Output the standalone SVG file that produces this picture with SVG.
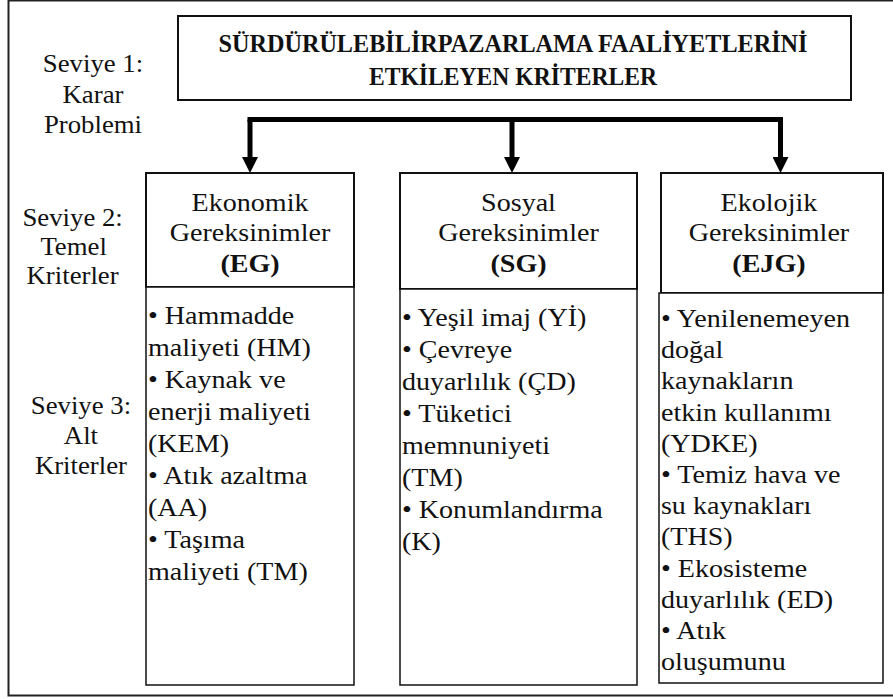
<svg xmlns="http://www.w3.org/2000/svg" width="893" height="699" viewBox="0 0 893 699">
  <style>
    .t { font-family: "Liberation Serif", "Times New Roman", serif; font-size: 26px; fill: #111; }
    .c { text-anchor: middle; }
    .b { font-weight: bold; }
    .title { font-family: "Liberation Serif", "Times New Roman", serif; font-size: 25px; font-weight: bold; fill: #111; text-anchor: middle; }
    .box { fill: #fff; stroke: #111; stroke-width: 2; }
    .thin { fill: #fff; stroke: #111; stroke-width: 1.5; }
    .conn { fill: none; stroke: #000; stroke-width: 5; }
  </style>
  <defs>
    <marker id="arrow" markerUnits="userSpaceOnUse" markerWidth="16" markerHeight="16" viewBox="0 0 16 16" refX="0" refY="8" orient="auto">
      <path d="M0,0 L16,8 L0,16 z" fill="#000"/>
    </marker>
  </defs>
  <rect x="0" y="0" width="893" height="699" fill="#fff"/>
  <rect x="8.5" y="0.5" width="895" height="695" fill="none" stroke="#222" stroke-width="2"/>

  <g id="level-labels" transform="scale(1.03,1)">
    <text class="t c" x="90.3" y="72">Seviye 1:</text>
    <text class="t c" x="90.3" y="103">Karar</text>
    <text class="t c" x="90.3" y="133">Problemi</text>
    <text class="t c" x="70.5" y="226">Seviye 2:</text>
    <text class="t c" x="71.5" y="255">Temel</text>
    <text class="t c" x="70.5" y="284">Kriterler</text>
    <text class="t c" x="78.6" y="414">Seviye 3:</text>
    <text class="t c" x="78.6" y="444">Alt</text>
    <text class="t c" x="78.6" y="474">Kriterler</text>
  </g>

  <g id="node-title">
    <rect class="box" x="178" y="16" width="673" height="84"/>
    <text class="title" x="513" y="52" textLength="589" lengthAdjust="spacingAndGlyphs">SÜRDÜRÜLEBİLİRPAZARLAMA FAALİYETLERİNİ</text>
    <text class="title" x="513" y="85" textLength="288" lengthAdjust="spacingAndGlyphs">ETKİLEYEN KRİTERLER</text>
  </g>

  <g id="connectors">
    <path class="conn" d="M250 119.5 H780.5" stroke-linecap="square"/>
    <path class="conn" d="M250 119.5 V157" marker-end="url(#arrow)"/>
    <path class="conn" d="M512 119.5 V157" marker-end="url(#arrow)"/>
    <path class="conn" d="M780.5 119.5 V157" marker-end="url(#arrow)"/>
  </g>

  <g id="node-eg">
    <rect class="box" x="146" y="173" width="208" height="114"/>
    <rect class="thin" x="146" y="287" width="208" height="398"/>
    <g transform="scale(1.08,1)">
      <text class="t c" x="231.5" y="211">Ekonomik</text>
      <text class="t c" x="231.5" y="241">Gereksinimler</text>
      <text class="t c b" x="231.5" y="272">(EG)</text>
      <text class="t" x="137" y="324">• Hammadde</text>
      <text class="t" x="137" y="356">maliyeti (HM)</text>
      <text class="t" x="137" y="388">• Kaynak ve</text>
      <text class="t" x="137" y="420">enerji maliyeti</text>
      <text class="t" x="137" y="452">(KEM)</text>
      <text class="t" x="137" y="484">• Atık azaltma</text>
      <text class="t" x="137" y="516">(AA)</text>
      <text class="t" x="137" y="548">• Taşıma</text>
      <text class="t" x="137" y="580">maliyeti (TM)</text>
    </g>
  </g>

  <g id="node-sg">
    <rect class="box" x="400" y="173" width="237" height="116"/>
    <rect class="thin" x="400" y="289" width="237" height="396"/>
    <g transform="scale(1.08,1)">
      <text class="t c" x="480.1" y="211">Sosyal</text>
      <text class="t c" x="480.1" y="241">Gereksinimler</text>
      <text class="t c b" x="480.1" y="272">(SG)</text>
      <text class="t" x="372.2" y="326">• Yeşil imaj (Yİ)</text>
      <text class="t" x="372.2" y="358">• Çevreye</text>
      <text class="t" x="372.2" y="390">duyarlılık (ÇD)</text>
      <text class="t" x="372.2" y="422">• Tüketici</text>
      <text class="t" x="372.2" y="454">memnuniyeti</text>
      <text class="t" x="372.2" y="486">(TM)</text>
      <text class="t" x="372.2" y="518">• Konumlandırma</text>
      <text class="t" x="372.2" y="550">(K)</text>
    </g>
  </g>

  <g id="node-ejg">
    <rect class="box" x="661" y="173" width="222" height="120"/>
    <rect class="thin" x="659" y="293" width="224" height="390"/>
    <g transform="scale(1.08,1)">
      <text class="t c" x="712" y="211">Ekolojik</text>
      <text class="t c" x="712" y="241">Gereksinimler</text>
      <text class="t c b" x="712" y="272">(EJG)</text>
      <text class="t" x="612" y="327">• Yenilenemeyen</text>
      <text class="t" x="612" y="358">doğal</text>
      <text class="t" x="612" y="389">kaynakların</text>
      <text class="t" x="612" y="421">etkin kullanımı</text>
      <text class="t" x="612" y="452">(YDKE)</text>
      <text class="t" x="612" y="483">• Temiz hava ve</text>
      <text class="t" x="612" y="514">su kaynakları</text>
      <text class="t" x="612" y="545">(THS)</text>
      <text class="t" x="612" y="577">• Ekosisteme</text>
      <text class="t" x="612" y="608">duyarlılık (ED)</text>
      <text class="t" x="612" y="639">• Atık</text>
      <text class="t" x="612" y="670">oluşumunu</text>
    </g>
  </g>
</svg>
